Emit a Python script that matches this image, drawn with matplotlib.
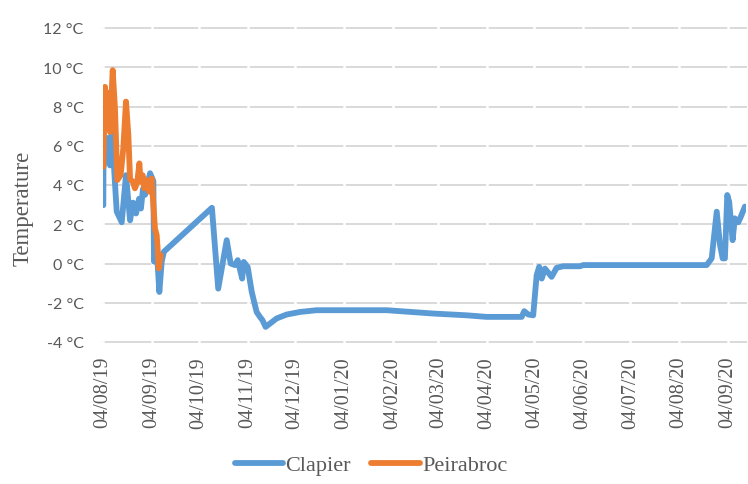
import matplotlib
matplotlib.use('Agg')
import matplotlib.pyplot as plt
import matplotlib.dates as mdates
from datetime import datetime
import numpy as np

START = datetime(2019, 8, 4)

# days since 04/08/19 and temperatures (°C)
clapier_days = [0.2, 0.3, 2.35, 4.45, 5.5, 8.7, 11.9, 14.6, 17.2, 19.1, 21.0, 22.9, 24.1,
                25.4, 26.7, 29.9, 32.0, 32.4, 34.1, 35.8, 37.3, 38.7, 69.2, 73.2, 78.6,
                81.1, 83.8, 85.6, 88.4, 89.4, 91.9, 94.5, 97.6, 99.7, 101.4, 103.3, 106.1,
                110.3, 116.7, 125.1, 135.7, 180.2, 209.8, 231.0, 243.7, 266.0, 267.6,
                270.2, 273.3, 275.5, 277.1, 278.7, 280.8, 285.0, 288.2, 292.4, 303.0,
                305.1, 383.5, 386.7, 389.9, 392.0, 393.7, 395.1, 396.6, 397.8, 400.0,
                401.4, 403.6, 405.3, 407.8]
clapier_temp = [2.97, 4.85, 6.4, 5.0, 6.9, 2.65, 2.1, 4.5, 2.2, 3.1, 2.55, 3.3, 2.8,
                3.8, 3.5, 4.6, 4.2, 0.1, 0.75, -1.45, 0.1, 0.6, 2.84, -1.28, 1.19,
                0.0, -0.08, 0.17, -0.77, 0.08, -0.17, -1.45, -2.47, -2.72, -2.9, -3.23, -3.06,
                -2.8, -2.6, -2.47, -2.38, -2.38, -2.55, -2.64, -2.72, -2.72, -2.43,
                -2.6, -2.64, -0.6, -0.17, -0.77, -0.26, -0.68, -0.22, -0.14, -0.14,
                -0.08, -0.08, 0.26, 2.64, 0.94, 0.26, 0.26, 3.49, 3.15, 1.19,
                2.3, 2.1, 2.4, 2.9]

peirabroc_days = [0.2, 1.27, 2.35, 3.37, 4.45, 6.16, 7.6, 9.1, 11.2, 12.9, 14.6, 16.1,
                  17.2, 18.9, 20.3, 21.8, 23.1, 23.9, 25.2, 26.2, 27.8, 29.4, 30.9,
                  33.0, 34.1, 34.7, 35.4, 36.7]
peirabroc_temp = [4.93, 9.0, 6.9, 8.7, 6.7, 9.85, 7.9, 4.25, 4.5, 5.87, 8.25, 6.55,
                  4.3, 4.17, 3.83, 4.17, 5.1, 4.17, 4.5, 3.83, 4.25, 3.66, 4.33,
                  1.79, 1.45, 0.77, -0.25, 0.43]

month_ticks = ['2019-08-04', '2019-09-04', '2019-10-04', '2019-11-04', '2019-12-04',
               '2020-01-04', '2020-02-04', '2020-03-04', '2020-04-04', '2020-05-04',
               '2020-06-04', '2020-07-04', '2020-08-04', '2020-09-04']
y_ticks = [-4, -2, 0, 2, 4, 6, 8, 10, 12]

BLUE = '#5B9BD5'
ORANGE = '#ED7D31'
GRID = '#D9D9D9'
TXT = '#595959'
SERIF = ['Liberation Serif', 'DejaVu Serif']
SANS = ['Lato', 'DejaVu Sans']

t0 = mdates.date2num(START)
fig = plt.figure(figsize=(7.48, 4.85), dpi=100)
ax = fig.add_axes([103/748, 1 - 343/485, (746 - 103)/748, (343 - 29)/485])

tick_nums = [mdates.date2num(datetime.fromisoformat(d)) for d in month_ticks]

for y in y_ticks:
    ax.axhline(y, color=GRID, lw=1.4, zorder=1, clip_on=False)
# small gaps in the gridlines at each month tick
ax.vlines(tick_nums, -4.2, 12.2, color='white', lw=1.8, zorder=1.5, clip_on=False)

ax.plot(t0 + np.array(clapier_days), clapier_temp, color=BLUE, lw=4.2,
        solid_joinstyle='round', solid_capstyle='round', zorder=3, label='Clapier')
ax.plot(t0 + np.array(peirabroc_days), peirabroc_temp, color=ORANGE, lw=4.2,
        solid_joinstyle='round', solid_capstyle='round', zorder=4, label='Peirabroc')

ax.set_xlim(t0, t0 + 408.5)
ax.set_ylim(-4, 12)
ax.set_xticks(tick_nums)
ax.xaxis.set_major_formatter(mdates.DateFormatter('%d/%m/%y'))
ax.set_yticks(y_ticks)
ax.set_yticklabels([f'{v} °C' for v in y_ticks])

for lab in ax.get_xticklabels():
    lab.set_rotation(90)
    lab.set_fontfamily(SERIF)
    lab.set_fontsize(14.5)
    lab.set_color(TXT)
for lab in ax.get_yticklabels():
    lab.set_fontfamily(SANS)
    lab.set_fontsize(11.5)
    lab.set_color(TXT)

ax.tick_params(axis='both', length=0)
ax.tick_params(axis='x', pad=10)
ax.tick_params(axis='y', pad=14)
for s in ax.spines.values():
    s.set_visible(False)

fig.text(23/748, 1 - 208/485, 'Temperature', rotation=90, ha='center', va='center',
         fontsize=16.5, family=SERIF, color=TXT)

handles, labels = ax.get_legend_handles_labels()
leg = fig.legend(handles, labels, loc='center', bbox_to_anchor=(371/748, 1 - 466/485),
                 ncol=2, frameon=False, handlelength=2.2, handletextpad=0.1,
                 columnspacing=0.9, prop={'family': SERIF, 'size': 16})
for t in leg.get_texts():
    t.set_color(TXT)

fig.savefig('out.png', dpi=100)
